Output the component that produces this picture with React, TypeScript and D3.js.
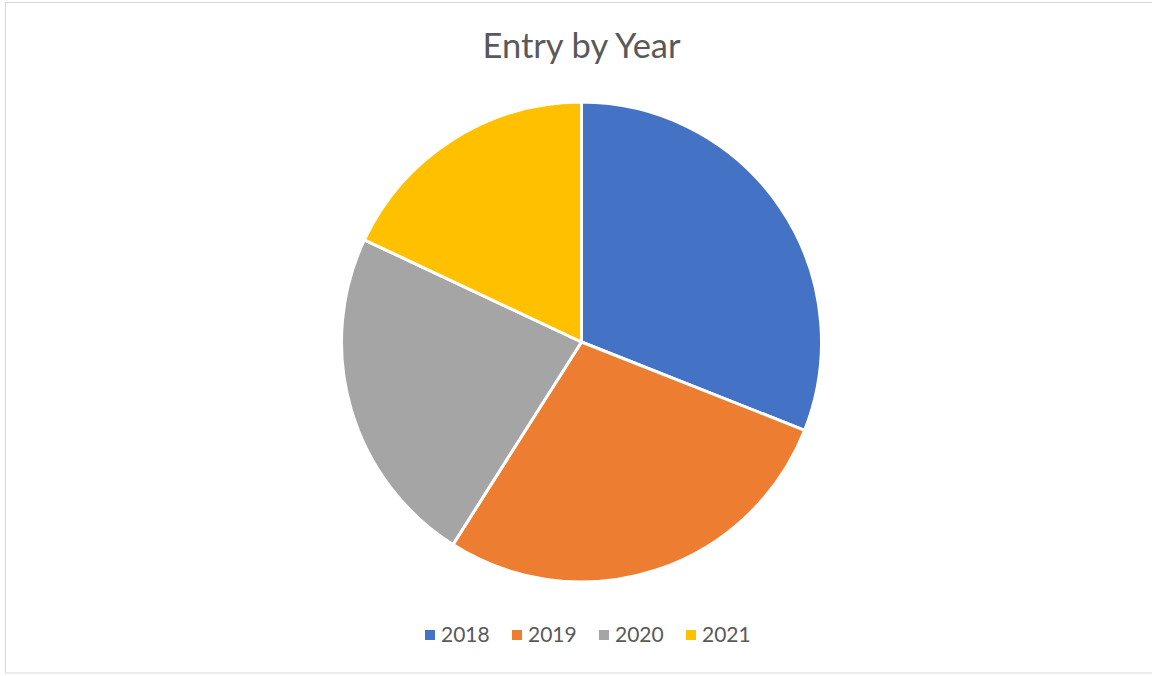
import React, { useEffect, useRef } from 'react';
import * as d3 from 'd3';

// values (share of entries per year, %)
const years = ['2018', '2019', '2020', '2021'];
const entries = [31, 28, 23, 18];
const colors = ['#4472C4', '#ED7D31', '#A5A5A5', '#FFC000'];

const App: React.FC = () => {
    const ref = useRef<SVGSVGElement>(null);

    useEffect(() => {
        const width = 1152;
        const height = 676;
        const cx = 581.5;
        const cy = 342;
        const radius = 240;

        const svg = d3.select(ref.current);
        svg.selectAll('*').remove();
        svg.attr('width', width).attr('height', height);

        // chart area border
        svg.append('rect')
            .attr('x', 5.5)
            .attr('y', 2.5)
            .attr('width', width)
            .attr('height', 670.5)
            .attr('fill', '#ffffff')
            .attr('stroke', '#d9d9d9')
            .attr('stroke-width', 1);

        svg.append('text')
            .attr('x', cx)
            .attr('y', 58)
            .attr('text-anchor', 'middle')
            .style('font-family', 'Lato, "Open Sans", sans-serif')
            .style('font-size', '34.5px')
            .attr('fill', '#595959')
            .text('Entry by Year');

        const data = years.map((y, i) => ({ year: y, value: entries[i] }));
        const pie = d3.pie<{ year: string; value: number }>()
            .sort(null)
            .value((d) => d.value);
        const arc = d3.arc<d3.PieArcDatum<{ year: string; value: number }>>()
            .innerRadius(0)
            .outerRadius(radius);
        const color = d3.scaleOrdinal<string, string>().domain(years).range(colors);

        svg.append('g')
            .attr('transform', `translate(${cx},${cy})`)
            .selectAll('path')
            .data(pie(data))
            .enter()
            .append('path')
            .attr('d', arc)
            .attr('fill', (d) => color(d.data.year))
            .attr('stroke', '#ffffff')
            .attr('stroke-width', 3)
            .attr('stroke-linejoin', 'round');

        // legend
        const legendX = d3.scalePoint<string>().domain(years).range([425, 686]);
        const legend = svg.append('g');
        const items = legend.selectAll('g')
            .data(years)
            .enter()
            .append('g')
            .attr('transform', (d) => `translate(${legendX(d)},630)`);
        items.append('rect')
            .attr('width', 10)
            .attr('height', 10)
            .attr('fill', (d) => color(d));
        items.append('text')
            .attr('x', 16)
            .attr('y', 12)
            .style('font-family', 'Lato, "Open Sans", sans-serif')
            .style('font-size', '21px')
            .attr('fill', '#595959')
            .text((d) => d);
    }, []);

    return <svg ref={ref} style={{ position: 'absolute', left: 0, top: 0 }}></svg>;
};

export default App;
